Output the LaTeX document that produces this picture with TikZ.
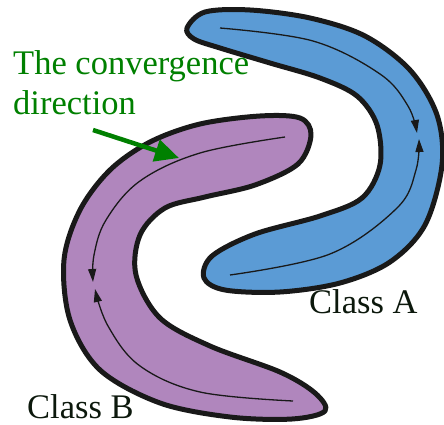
\documentclass[tikz,border=0pt]{standalone}
\usepackage{fontspec}
\setmainfont{Liberation Serif}
\usetikzlibrary{arrows.meta}
\definecolor{blobA}{RGB}{91,155,213}
\definecolor{blobB}{RGB}{176,134,189}
\definecolor{convgreen}{RGB}{0,128,0}
\definecolor{labeltext}{RGB}{12,24,12}
\tikzset{
  blob/.style={draw=black!90, line width=5pt, line join=round},
  flowline/.style={draw=black!90, line width=1.3pt, -{Triangle[length=13pt,width=8pt]}},
  lbl/.style={inner sep=0pt, anchor=base west, font=\fontsize{34.5}{41}\selectfont},
}
\begin{document}
\begin{tikzpicture}[x=1pt,y=-1pt]
\useasboundingbox (0,0) rectangle (444,425);
% Class A blob
\draw[blob, fill=blobA] plot[smooth cycle, tension=0.55] coordinates {
 (187,28) (205,12) (250,10) (310,18) (365,36) (410,70) (437,115) (442,165)
 (425,225) (390,262) (340,283) (280,292) (225,290) (204,278) (212,256)
 (255,234) (320,216) (362,198) (380,165) (377,125) (357,96) (320,78)
 (270,63) (220,48) (194,39)};
% Class B blob
\draw[blob, fill=blobB] plot[smooth cycle, tension=0.55] coordinates {
 (311,135) (300,118) (260,116) (200,124) (150,142) (110,170) (80,210)
 (64,260) (70,320) (100,370) (160,403) (230,417) (292,419) (325,411)
 (315,393) (280,372) (210,346) (160,318) (136,275) (140,235) (165,208)
 (205,197) (255,185) (298,164)};
% flow lines A
\draw[flowline] plot[smooth, tension=0.6] coordinates {(220,28) (313,41) (380,74) (408,106) (417,133)};
\draw[flowline] plot[smooth, tension=0.6] coordinates {(230,275) (330,254) (397,208) (416,170) (419,139)};
% flow lines B
\draw[flowline] plot[smooth, tension=0.6] coordinates {(285,137) (200,153) (140,181) (106,220) (94,255) (93,282)};
\draw[flowline] plot[smooth, tension=0.6] coordinates {(293,401) (200,392) (140,366) (108,326) (95,289)};
% labels
\node[lbl, text=convgreen] (conv1) at (13,75) {The convergence};
\node[lbl, text=convgreen] (conv2) at (13,115) {direction};
\node[lbl, text=labeltext] (classA) at (309,313) {Class A};
\node[lbl, text=labeltext] (classB) at (27,418) {Class B};
% green arrow
\coordinate (gstart) at (93,130);
\coordinate (gtip) at (179,158);
\draw[convgreen, line width=4.5pt, -{Triangle[length=24pt,width=22pt]}] (gstart) -- (gtip);
\end{tikzpicture}
\end{document}
